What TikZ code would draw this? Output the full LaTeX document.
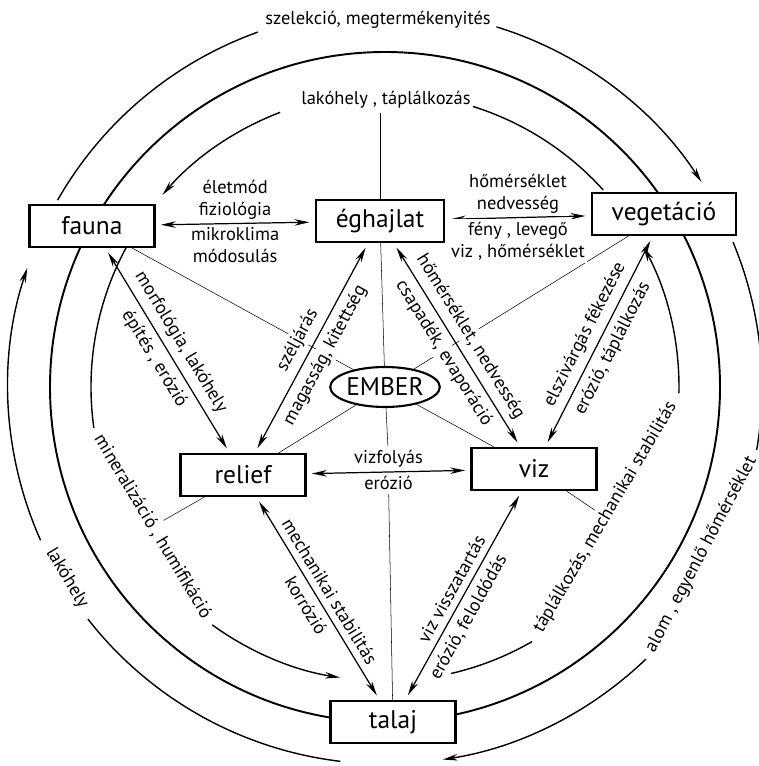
\documentclass[tikz,border=0pt]{standalone}
\usepackage{fontspec}
\setmainfont{PT Sans}
\usetikzlibrary{arrows.meta,shapes.geometric}

\begin{document}
\begin{tikzpicture}[x=0.02cm,y=0.02cm,>={Stealth[length=3mm,width=1.3mm]},
          box/.style={draw,line width=1.2pt,fill=white,minimum width=2.5cm,
                      minimum height=0.84cm,inner xsep=0.4cm,
                      font=\fontsize{14.5}{17}\selectfont},
          lbl/.style={fill=white,inner sep=1.5pt,outer sep=1pt,align=center,
                      font=\fontsize{10.5}{12.5}\selectfont},
          side/.style={lbl,sloped,outer sep=2.5pt},
          link/.style={<->,line width=0.7pt,shorten <=3pt,shorten >=3pt},
          ring/.style={line width=0.8pt},
          spoke/.style={line width=0.3pt}]
  \useasboundingbox (-385,-379) rectangle (374,387);
  \draw[line width=1.1pt] (0,0) circle[radius=335];
  % outer ring
  \draw[ring] (150.3:377) arc[start angle=150.3,end angle=109.7,radius=377];
  \node[lbl] (szel) at (-7,367) {szelekció, megtermékenyités};
  \draw[ring,->] (72.8:377) arc[start angle=72.8,end angle=32.9,radius=377];
  \draw[ring] (22.6:377) arc[start angle=22.6,end angle=-9.6,radius=377];
  \node[lbl,rotate=62.1] (alom) at (-27.9:358) {alom , egyenlő hőmérséklet};
  \draw[ring,->] (-46.2:377) arc[start angle=-46.2,end angle=-81.2,radius=377];
  \draw[ring] (-96.8:377) arc[start angle=-96.8,end angle=-142,radius=377];
  \node[lbl,rotate=-59] (lakh) at (-149:371) {lakóhely};
  \draw[ring,->] (-156:377) arc[start angle=-156,end angle=-198.4,radius=377];
  % inner ring
  \draw[ring] (42.1:294) arc[start angle=42.1,end angle=72.7,radius=294];
  \node[lbl] (lak) at (1,287) {lakóhely , táplálkozás};
  \draw[ring,->] (110.9:294) arc[start angle=110.9,end angle=139.2,radius=294];
  \draw[ring] (150:294) arc[start angle=150,end angle=188,radius=294];
  \node[lbl,rotate=-59] (mh) at (211:271) {mineralizáció , humifikáció};
  \draw[ring,->] (234:294) arc[start angle=234,end angle=261.2,radius=294];
  \draw[ring] (-77:294) arc[start angle=-77,end angle=-60,radius=294];
  \node[lbl,rotate=59.4] (tm) at (-30.6:256) {táplálkozás, mechanikai stabilitás};
  \draw[ring,->] (-1.2:294) arc[start angle=-1.2,end angle=28.5,radius=294];

  \node[box] (fauna)    at (-293,161) {fauna};
  \node[box] (eghajlat) at (-5,166)   {éghajlat};
  \node[box] (veget)    at (279,173)  {vegetáció};
  \node[box] (relief)   at (-142,-88) {relief};
  \node[box] (viz)      at (149,-82)  {viz};
  \node[box] (talaj)    at (8,-335)   {talaj};
  \node[draw,ellipse,line width=1.2pt,minimum width=1.85cm,minimum height=0.8cm,
        inner sep=0pt,font=\fontsize{14.5}{16}\selectfont] (ember) at (0,0) {EMBER};

  \draw[spoke] (ember) -- (fauna);
  \draw[spoke] (ember) -- (eghajlat);
  \draw[spoke] (ember) -- (veget);
  \draw[spoke] (ember) -- (relief);
  \draw[spoke] (ember) -- (viz);
  \draw[spoke] (eghajlat.north) -- (eghajlat.north |- lak.south);
  \draw[spoke] (relief) -- (mh);
  \draw[spoke] (viz) -- (tm);

  \draw[link] (fauna) -- node[lbl,above] {életmód\\fiziológia}
                         node[lbl,below] {mikroklima\\módosulás} (eghajlat);
  \draw[link] (eghajlat) -- node[lbl,above] {hőmérséklet\\nedvesség}
                            node[lbl,below] {fény , levegő\\viz , hőmérséklet} (veget);
  \draw[link] (fauna) -- node[side,above] {morfológia, lakóhely}
                         node[side,below] {építés , erózió} (relief);
  \draw[link] (relief) -- node[side,above] {széljárás}
                          node[side,below] {magasság, kitettség} (eghajlat);
  \draw[link] (eghajlat) -- node[side,above] {hőmérséklet, nedvesség}
                            node[side,below] {csapadék, evaporáció} (viz);
  \draw[link] (viz) -- node[side,above] {elszivárgás fékezése}
                       node[side,below] {erózió, táplálkozás} (veget);
  \draw[link] (relief) -- node[lbl,above] (vf) {vizfolyás}
                          node[lbl,below] (er) {erózió} (viz);
  \draw[link] (relief) -- node[side,above] {mechanikai stabilitás}
                          node[side,below] {korrózió} (talaj);
  \draw[link] (talaj) -- node[side,above] {viz visszatartás}
                         node[side,below,pos=0.43] {erózió, feloldódás} (viz);
  \draw[spoke] (ember) -- (vf);
  \draw[spoke] (er) -- (talaj);
\end{tikzpicture}
\end{document}
